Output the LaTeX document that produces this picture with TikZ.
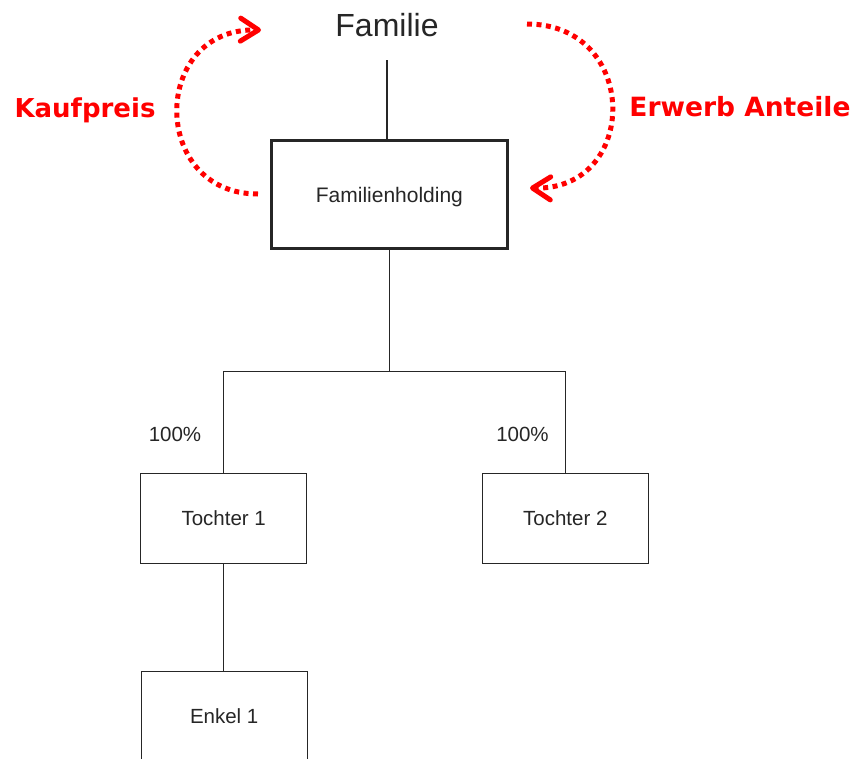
\documentclass[tikz,border=0pt]{standalone}
\usepackage{fontspec}
\setmainfont{Liberation Sans}
\newfontfamily\notefont{DejaVu Sans}
\usetikzlibrary{arrows.meta}
\definecolor{ink}{HTML}{262626}
\definecolor{flow}{HTML}{FF0000}

\begin{document}
\begin{tikzpicture}[x=1pt,y=-1pt,
  every node/.style={inner sep=0pt, text=ink},
  orgbox/.style={draw=ink, line width=0.9pt, minimum width=166pt, minimum height=90pt,
    font=\fontsize{20.5}{24}\selectfont, text height=14.7pt, text depth=0pt},
  holdbox/.style={orgbox, line width=2.5pt, minimum width=236pt, minimum height=108pt,
    font=\fontsize{21}{25}\selectfont, text height=15pt},
  share/.style={anchor=base, font=\fontsize{20.5}{24}\selectfont},
  link/.style={draw=ink, line width=0.9pt},
  note/.style={anchor=base, text=flow, font=\notefont\bfseries\fontsize{26}{30}\selectfont},
  flowarrow/.style={draw=flow, line width=5pt, dash pattern=on 5pt off 4.5pt,
    -{Straight Barb[length=18pt, width=23pt, round]}}
]
\useasboundingbox (0,0) rectangle (857,758);
\clip (0,0) rectangle (857,758);

% owners and holding
\node[anchor=base, font=\fontsize{32}{38}\selectfont] (fam) at (387,36) {Familie};
\node[holdbox] (hold) at (389.4,194.5) {Familienholding};
\draw[draw=ink, line width=2pt] ([yshift=-24pt]fam.base) -- (fam.base |- hold.north);

% subsidiaries
\node[orgbox] (t1) at (223.7,518.3) {Tochter 1};
\node[orgbox] (t2) at (565.3,518.3) {Tochter 2};
\node[orgbox] (e1) at (224.2,716) {Enkel 1};
\coordinate (bar) at (390,371);

\draw[link] (hold.south) -- (hold.south |- bar);
\draw[link] (t1.north) -- (t1.north |- bar) -- (t2.north |- bar) -- (t2.north);
\draw[link] (t1.south) -- (t1.south |- e1.north);

\node[share] (p1) at (175,441) {100\%};
\node[share] (p2) at (522.5,441) {100\%};

% purchase price and share transfer
\coordinate (kpStart) at (258,194);
\coordinate (kpEnd) at (261,30);
\coordinate (ewStart) at (527,24);
\coordinate (ewEnd) at (530,188);
\draw[flowarrow] (kpStart) .. controls (150,194) and (150,28) .. (kpEnd);
\draw[flowarrow] (ewStart) .. controls (640,24) and (640,190) .. (ewEnd);

\node[note] (kp) at (85,117) {Kaufpreis};
\node[note, font=\notefont\bfseries\fontsize{26.5}{30}\selectfont] (ew) at (740,116) {Erwerb Anteile};
\end{tikzpicture}
\end{document}
